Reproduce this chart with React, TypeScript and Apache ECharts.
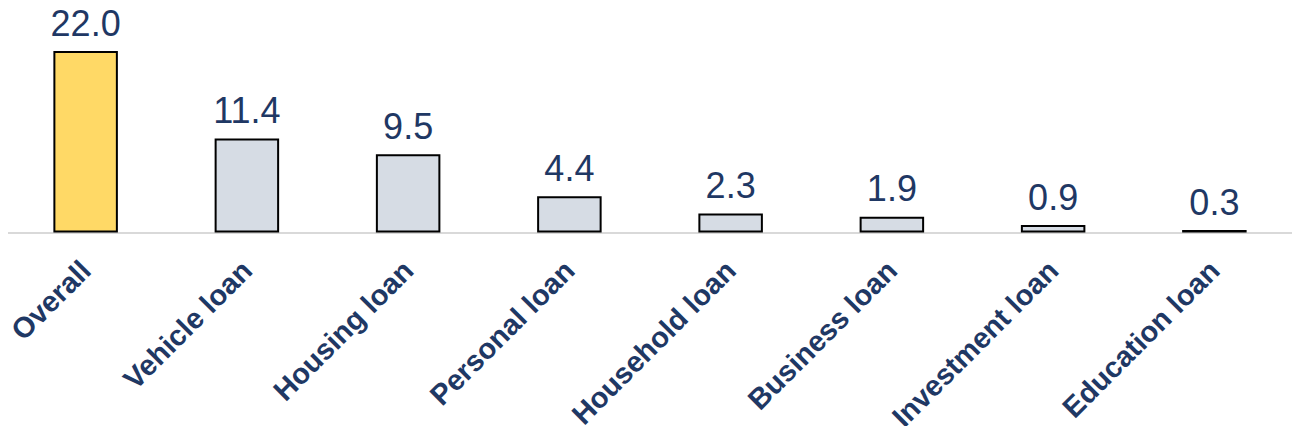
import React, { useEffect, useRef } from "react";
import * as echarts from "echarts";

const categories = ["Overall", "Vehicle loan", "Housing loan", "Personal loan", "Household loan", "Business loan", "Investment loan", "Education loan"];
const values = [22.0, 11.4, 9.5, 4.4, 2.3, 1.9, 0.9, 0.3];
const barColors = ["#FFD966", "#D6DCE4", "#D6DCE4", "#D6DCE4", "#D6DCE4", "#D6DCE4", "#D6DCE4", "#D6DCE4"];

export default function App() {
  const ref = useRef<HTMLDivElement>(null);
  useEffect(() => {
    if (!ref.current) return;
    const chart = echarts.init(ref.current, null, { renderer: "svg" });
    chart.setOption({
      animation: false,
      grid: { left: 5, right: 5, top: 51, bottom: 200, containLabel: false },
      xAxis: {
        type: "category",
        data: categories,
        axisLine: { show: true, lineStyle: { color: "#D9D9D9", width: 2 } },
        axisTick: { show: false },
        axisLabel: {
          rotate: 45,
          interval: 0,
          margin: 33,
          color: "#1F3864",
          fontWeight: "bold",
          fontSize: 29,
          fontFamily: "Liberation Sans, Arial, sans-serif",
        },
      },
      yAxis: { type: "value", min: 0, max: 22, show: false },
      series: [
        {
          type: "bar",
          barWidth: "40%",
          data: values.map((v, i) => ({ value: v, itemStyle: { color: barColors[i] } })),
          itemStyle: { borderColor: "#000000", borderWidth: 2 },
          label: {
            show: true,
            position: "top",
            distance: 10,
            formatter: (p: any) => Number(p.value).toFixed(1),
            color: "#1F3864",
            fontSize: 36,
            fontFamily: "Liberation Sans, Arial, sans-serif",
          },
        },
      ],
    });
    return () => chart.dispose();
  }, []);
  return <div ref={ref} style={{ width: 1300, height: 434, margin: -8 }} />;
}
